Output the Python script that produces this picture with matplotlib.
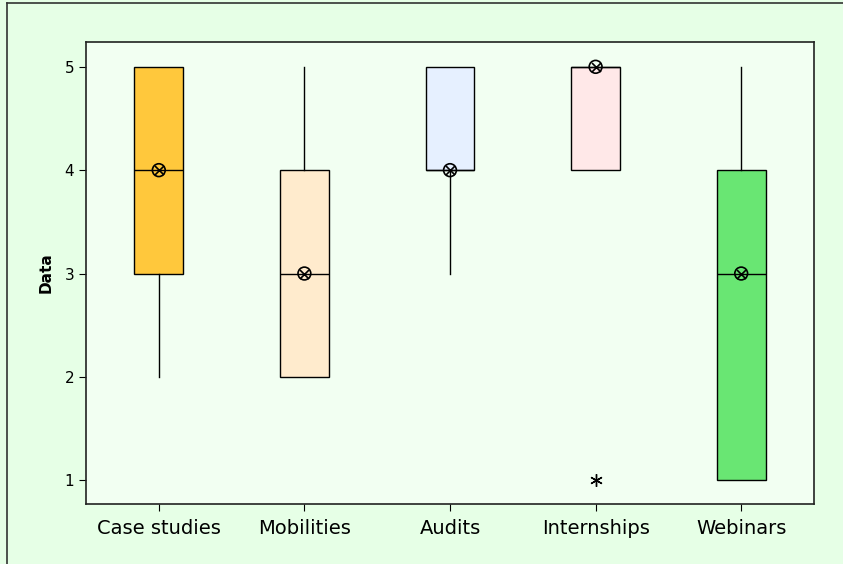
import matplotlib
matplotlib.use("Agg")
import matplotlib.pyplot as plt
from matplotlib.lines import Line2D

# box summaries
categories = ["Case studies", "Mobilities", "Audits", "Internships", "Webinars"]
whisk_lo = [2, 2, 3, 4, 1]
q1 = [3, 2, 4, 4, 1]
medians = [4, 3, 4, 5, 3]
q3 = [5, 4, 5, 5, 4]
whisk_hi = [5, 5, 5, 5, 5]
means = [4, 3, 4, 5, 3]
outliers = [[], [], [], [1], []]
box_colors = ["#FFC83C", "#FFEBCD", "#E6F0FF", "#FFE8E8", "#69E673"]

fig = plt.figure(figsize=(8.43, 5.64), dpi=100)
fig.patch.set_facecolor("#E6FFE6")
# border line only shows on the left and top of the figure
bx, by = 7 / 843, 1 - 3 / 564
fig.lines.append(Line2D([bx, bx], [0, by], transform=fig.transFigure, color="#333333", linewidth=1.2))
fig.lines.append(Line2D([bx, 1], [by, by], transform=fig.transFigure, color="#333333", linewidth=1.2))

ax = fig.add_axes([86 / 843, 1 - 504 / 564, (814 - 86) / 843, (504 - 42) / 564])
ax.set_facecolor("#F2FFF2")

stats = []
for i in range(len(categories)):
    stats.append(dict(med=medians[i], q1=q1[i], q3=q3[i], whislo=whisk_lo[i],
                      whishi=whisk_hi[i], fliers=outliers[i], mean=means[i], label=categories[i]))

bp = ax.bxp(stats, positions=range(1, 6), widths=0.336, patch_artist=True, showcaps=False,
            boxprops=dict(edgecolor="black", linewidth=1.0),
            medianprops=dict(color="black", linewidth=1.0),
            whiskerprops=dict(color="black", linewidth=1.0),
            flierprops=dict(marker=(6, 2, 0), markersize=9, markeredgecolor="black", markeredgewidth=1.0),
            showfliers=True)
for patch, c in zip(bp["boxes"], box_colors):
    patch.set_facecolor(c)

# mean symbol: circle with an x inside
ax.scatter(range(1, 6), means, s=85, facecolors="none", edgecolors="black", linewidths=1.2, zorder=5)
ax.scatter(range(1, 6), means, s=42, marker="x", color="black", linewidths=1.2, zorder=5)

ax.set_xlim(0.5, 5.5)
ax.set_ylim(0.77, 5.24)
ax.set_yticks([1, 2, 3, 4, 5])
ax.set_xticks(range(1, 6))
ax.set_xticklabels(categories, fontsize=14)
ax.tick_params(axis="y", labelsize=11, length=5)
ax.tick_params(axis="x", length=5, pad=6)
ax.set_ylabel("Data", fontsize=11, fontweight="bold", labelpad=8)
for s in ax.spines.values():
    s.set_linewidth(1.2)
    s.set_color("#222222")

fig.savefig("out.png", dpi=100, facecolor=fig.get_facecolor())
